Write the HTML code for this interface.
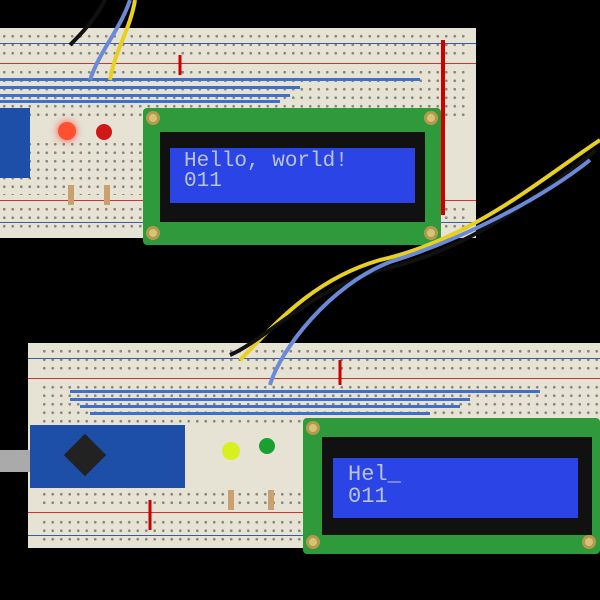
<!DOCTYPE html>
<html><head><style>
body{margin:0;width:600px;height:600px;background:#000;position:relative;overflow:hidden;font-family:"Liberation Sans",sans-serif}
div{position:absolute;box-sizing:border-box}
.bb{background:#e6e2d4}
.holes{background-image:radial-gradient(circle,#8a877c 1.2px,transparent 1.6px);background-size:8.5px 8.5px}
.pcb{background:#2f9a3c;border-radius:4px}
.bez{background:#111}
.scr{background:#2a44e6;color:#b9c3d8;font-family:"Liberation Mono",monospace;white-space:pre}
.hole{width:14px;height:14px;border-radius:50%;background:#d8c27a;border:3px solid #b39a4a}
.rail{height:1px}
</style></head><body>
<!-- top breadboard -->
<div class="bb" style="left:0;top:28px;width:476px;height:210px"></div>
<div class="holes" style="left:0;top:32px;width:470px;height:24px"></div>
<div class="holes" style="left:0;top:68px;width:470px;height:50px"></div>
<div class="holes" style="left:0;top:140px;width:145px;height:55px"></div>
<div class="holes" style="left:0;top:205px;width:470px;height:24px"></div>
<div class="rail" style="left:0;top:43px;width:476px;background:#3a5ab0"></div>
<div class="rail" style="left:0;top:63px;width:476px;background:#c33"></div>
<div class="rail" style="left:0;top:200px;width:476px;background:#c33"></div>
<div class="rail" style="left:0;top:222px;width:476px;background:#3a5ab0"></div>
<div style="left:0;top:108px;width:30px;height:70px;background:#1d4fa8"></div>
<div style="left:58px;top:122px;width:18px;height:18px;border-radius:50%;background:#ff5030;box-shadow:0 0 8px #f44"></div>
<div style="left:96px;top:124px;width:16px;height:16px;border-radius:50%;background:#d01818"></div>
<div style="left:68px;top:185px;width:6px;height:20px;background:#c9a070"></div>
<div style="left:104px;top:185px;width:6px;height:20px;background:#c9a070"></div>
<!-- top LCD -->
<div class="pcb" style="left:143px;top:108px;width:298px;height:137px"></div>
<div class="hole" style="left:146px;top:111px"></div><div class="hole" style="left:424px;top:111px"></div>
<div class="hole" style="left:146px;top:226px"></div><div class="hole" style="left:424px;top:226px"></div>
<div class="bez" style="left:160px;top:132px;width:265px;height:90px"></div>
<div class="scr" style="left:170px;top:148px;width:245px;height:55px;padding:4px 0 0 14px;font-size:21px;line-height:20px">Hello, world!
011</div>
<div style="left:441px;top:40px;width:4px;height:175px;background:#c00"></div>
<!-- blue wire bundle top -->
<div style="left:0;top:78px;width:420px;height:3px;background:#3d6fd0"></div>
<div style="left:0;top:86px;width:300px;height:3px;background:#3d6fd0"></div>
<div style="left:0;top:94px;width:290px;height:3px;background:#3d6fd0"></div>
<div style="left:0;top:100px;width:280px;height:3px;background:#3d6fd0"></div>
<!-- bottom breadboard -->
<div class="bb" style="left:28px;top:343px;width:572px;height:205px"></div>
<div class="holes" style="left:40px;top:347px;width:560px;height:24px"></div>
<div class="holes" style="left:40px;top:383px;width:560px;height:40px"></div>
<div class="holes" style="left:40px;top:490px;width:265px;height:18px"></div>
<div class="holes" style="left:40px;top:518px;width:265px;height:24px"></div>
<div class="rail" style="left:28px;top:358px;width:572px;background:#3a5ab0"></div>
<div class="rail" style="left:28px;top:378px;width:572px;background:#c33"></div>
<div class="rail" style="left:28px;top:512px;width:572px;background:#c33"></div>
<div class="rail" style="left:28px;top:535px;width:572px;background:#3a5ab0"></div>
<div style="left:70px;top:390px;width:470px;height:3px;background:#3d6fd0"></div>
<div style="left:70px;top:398px;width:400px;height:3px;background:#3d6fd0"></div>
<div style="left:80px;top:405px;width:380px;height:3px;background:#3d6fd0"></div>
<div style="left:90px;top:412px;width:340px;height:3px;background:#3d6fd0"></div>
<div style="left:30px;top:425px;width:155px;height:63px;background:#1d4fa8"></div>
<div style="left:70px;top:440px;width:30px;height:30px;background:#222;transform:rotate(45deg)"></div>
<div style="left:0;top:450px;width:30px;height:22px;background:#aaa"></div>
<div style="left:222px;top:442px;width:18px;height:18px;border-radius:50%;background:#d8f020"></div>
<div style="left:259px;top:438px;width:16px;height:16px;border-radius:50%;background:#1aa030"></div>
<div style="left:228px;top:490px;width:6px;height:20px;background:#c9a070"></div>
<div style="left:268px;top:490px;width:6px;height:20px;background:#c9a070"></div>
<!-- bottom LCD -->
<div class="pcb" style="left:303px;top:418px;width:297px;height:136px"></div>
<div class="hole" style="left:306px;top:421px"></div><div class="hole" style="left:306px;top:535px"></div>
<div class="hole" style="left:582px;top:535px"></div>
<div class="bez" style="left:322px;top:437px;width:270px;height:98px"></div>
<div class="scr" style="left:333px;top:458px;width:245px;height:60px;padding:6px 0 0 15px;font-size:22px;line-height:22px">Hel_
011</div>
<!-- wires -->
<svg style="position:absolute;left:0;top:0" width="600" height="600">
<path d="M600 140 C540 180 470 240 380 260 C310 280 270 330 240 360" stroke="#e8d020" stroke-width="4" fill="none"/>
<path d="M596 150 C540 195 470 250 380 270 C310 290 265 340 230 355" stroke="#111" stroke-width="4" fill="none"/>
<path d="M590 160 C540 200 460 240 390 262 C330 285 280 350 270 385" stroke="#6a8ad8" stroke-width="4" fill="none"/>
<path d="M135 0 C130 30 115 50 110 80" stroke="#e8d020" stroke-width="4" fill="none"/>
<path d="M105 0 C95 20 80 35 70 45" stroke="#111" stroke-width="4" fill="none"/>
<path d="M130 0 C120 30 100 50 90 80" stroke="#6a8ad8" stroke-width="4" fill="none"/>
<path d="M180 55 V75" stroke="#c00" stroke-width="3"/>
<path d="M340 360 V385" stroke="#c00" stroke-width="3"/>
<path d="M150 500 V530" stroke="#c00" stroke-width="3"/>
</svg>
</body></html>
